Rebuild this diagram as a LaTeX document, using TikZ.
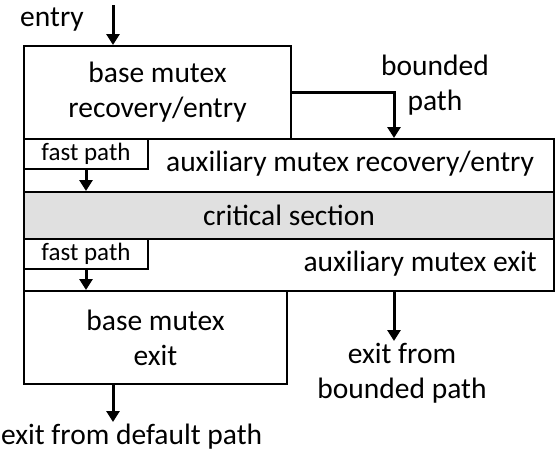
\documentclass[tikz,border=0pt]{standalone}
\usepackage{fontspec}
\setmainfont{Carlito}
\usepackage{xcolor}
\usepackage{tikz}
\usetikzlibrary{calc, positioning, arrows.meta}

\begin{document}
\begin{tikzpicture}[
    x=1pt, y=-1pt,
    box/.style={rectangle, draw, line width=2pt, anchor=north west, inner sep=0pt,
                align=center, font=\fontsize{29.5}{35}\selectfont},
    band/.style={box, minimum width=530pt},
    fastbox/.style={box, fill=white, minimum width=124pt, minimum height=30pt,
                    font=\fontsize{25}{30}\selectfont},
    lb/.style={inner sep=0pt, align=center, font=\fontsize{29.5}{35}\selectfont},
    flow/.style={line width=3pt, -{Triangle[width=13pt,length=11pt]}}
]
\useasboundingbox (0,0) rectangle (556,456);

% --- stacked bands of the lock ---
\node[band, minimum height=53pt] (auxentry) at (23,138) {};
\node[band, minimum height=47pt, fill=black!12] (crit) at (23,191) {critical section};
\node[band, minimum height=52pt] (auxexit) at (23,238) {};

% base mutex boxes
\node[box, minimum width=267pt, minimum height=93pt] (baseentry) at (23,45) {base mutex\\recovery/entry};
\node[box, minimum width=263pt, minimum height=93pt] (baseexit) at (23,290) {base mutex\\exit};

% fast path boxes sit in the top left corner of the aux bands
\node[fastbox] (fastentry) at (23,138) {fast path};
\node[fastbox] (fastexit) at (23,238) {fast path};

% band texts
\node[lb] (auxentrylb) at (350,164) {auxiliary mutex recovery/entry};
\node[lb, anchor=east] (auxexitlb) at (537,264) {auxiliary mutex exit};

% --- labels outside ---
\node[lb] (entrylb) at (52,20) {entry};
\node[lb] (boundedlb) at (435,85) {bounded\\path};
\node[lb] (exitbounded) at (402,373) {exit from\\bounded path};
\node[lb, anchor=west] (exitdefault) at (1,437) {exit from default path};

% arrow ends
\coordinate (entrytop) at (113,5);
\coordinate (bx) at (394,0);
\coordinate (boundedend) at (394,341);
\coordinate (defaultend) at (113,422);

% --- arrows ---
\draw[flow] (entrytop) -- (entrytop |- baseentry.north);
\draw[flow] (baseentry.east) -| (bx |- auxentry.north);
\draw[flow] (fastentry.south) -- (fastentry.south |- crit.north);
\draw[flow] (fastexit.south) -- (fastexit.south |- baseexit.north);
\draw[flow] (bx |- auxexit.south) -- (boundedend);
\draw[flow] (defaultend |- baseexit.south) -- (defaultend);

\end{tikzpicture}
\end{document}
